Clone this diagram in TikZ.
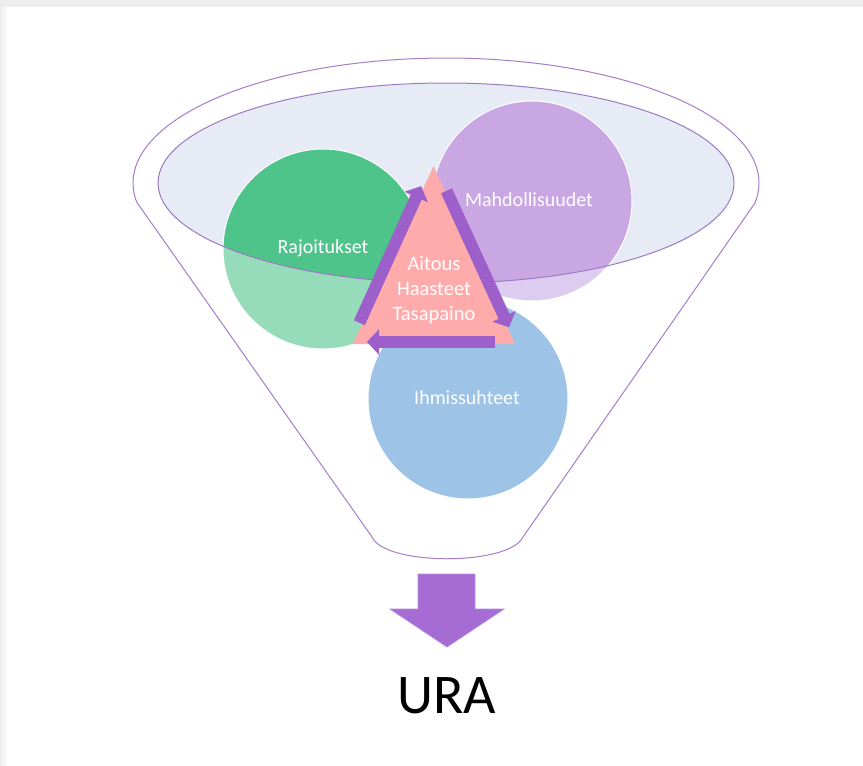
\documentclass[tikz,border=0pt]{standalone}
\usepackage{fontspec}
\setmainfont{Carlito}
\usetikzlibrary{calc,arrows.meta}

\definecolor{framegray}{HTML}{EDEDED}
\definecolor{funnelpurple}{HTML}{A47ECB}
\definecolor{ellfill}{HTML}{E6EBF5}
\definecolor{ellpurple}{HTML}{9C7AC2}
\definecolor{greendark}{HTML}{4EC48B}
\definecolor{greenlight}{HTML}{97DCBA}
\definecolor{purpledark}{HTML}{C8A7E2}
\definecolor{purplelight}{HTML}{DDCCEF}
\definecolor{circblue}{HTML}{9DC3E6}
\definecolor{tripink}{HTML}{FFABAB}
\definecolor{cyclepurple}{HTML}{9D5FCA}
\definecolor{downpurple}{HTML}{A66CD4}
\definecolor{downedge}{HTML}{B68CDF}

\begin{document}
\begin{tikzpicture}[x=1pt,y=-1pt,
  funnelline/.style={draw=funnelpurple, line width=1pt, line join=round},
  ellline/.style={draw=ellpurple, line width=1pt},
  rim/.style={draw=white, line width=1pt},
  cyclearrow/.style={draw=cyclepurple, line width=12pt,
    -{Triangle[width=25pt,length=12pt]}},
  lbl/.style={text=white, font=\fontsize{20}{24}\selectfont, anchor=base, inner sep=0pt},
]
\useasboundingbox (0,0) rectangle (863,766);

% page and frame edge
\fill[white] (0,0) rectangle (863,766);
\fill[framegray] (0,0) rectangle (863,7);
\shade[left color=framegray, right color=white] (0,7) rectangle (8,766);

% funnel body: rim arc, sloping sides, rounded bottom
\draw[funnelline] plot[domain=171.26:369.2, samples=100]
  ({446+313*cos(\x)},{183+125*sin(\x)})
  -- (523,537) .. controls (509,566) and (385,566) .. (372,537) -- cycle;

% inner opening of the funnel
\coordinate (ec) at (446,183);
\fill[ellfill] (ec) ellipse [x radius=288pt, y radius=100pt];

% the three circles
\coordinate (gc) at (323,249);
\coordinate (pc) at (532,201);
\coordinate (bc) at (468,399);
\fill[greenlight] (gc) circle [radius=100pt];
\fill[purplelight] (pc) circle [radius=100pt];
\begin{scope}
  \clip (ec) ellipse [x radius=288pt, y radius=100pt];
  \fill[greendark] (gc) circle [radius=100pt];
  \fill[purpledark] (pc) circle [radius=100pt];
\end{scope}
\draw[rim] (gc) circle [radius=100pt];
\draw[rim] (pc) circle [radius=100pt];
\draw[ellline] (ec) ellipse [x radius=288pt, y radius=100pt];
\fill[circblue] (bc) circle [radius=100pt];
\draw[rim] (bc) circle [radius=100pt];

% central triangle
\coordinate (tA) at (353,344);
\coordinate (tB) at (433.5,166);
\coordinate (tC) at (515,344);
\fill[tripink] (tA) -- (tB) -- (tC) -- cycle;

% cycle arrows along the triangle sides
\draw[cyclearrow] ($(tA)!22pt!(tB)+(-2.7,-1.2)$) -- ($(tA)!172pt!(tB)+(-2.7,-1.2)$);
\draw[cyclearrow] ($(tB)!28pt!(tC)+(1.4,-0.6)$) -- ($(tB)!178pt!(tC)+(1.4,-0.6)$);
\draw[cyclearrow] ($(tC)!20pt!(tA)+(0,-2)$) -- ($(tC)!148pt!(tA)+(0,-2)$);

% labels
\node[lbl] (raj) at (323,253) {Rajoitukset};
\node[lbl] (mah) at (529,206) {Mahdollisuudet};
\node[lbl] (ihm) at (467,404) {Ihmissuhteet};
\node[text=white, align=center, inner sep=0pt,
      font=\fontsize{20.5}{25}\selectfont] (core) at (434,290) {Aitous\\Haasteet\\Tasapaino};

% outcome arrow and result
\filldraw[fill=downpurple, draw=downedge, line width=0.8pt]
  (418,574) -- (475,574) -- (475,609) -- (504,609) -- (447,647) -- (390,609) -- (418,609) -- cycle;
\node[anchor=base, inner sep=0pt, font=\fontsize{56}{60}\selectfont] (ura) at (447,713) {URA};
\end{tikzpicture}
\end{document}
